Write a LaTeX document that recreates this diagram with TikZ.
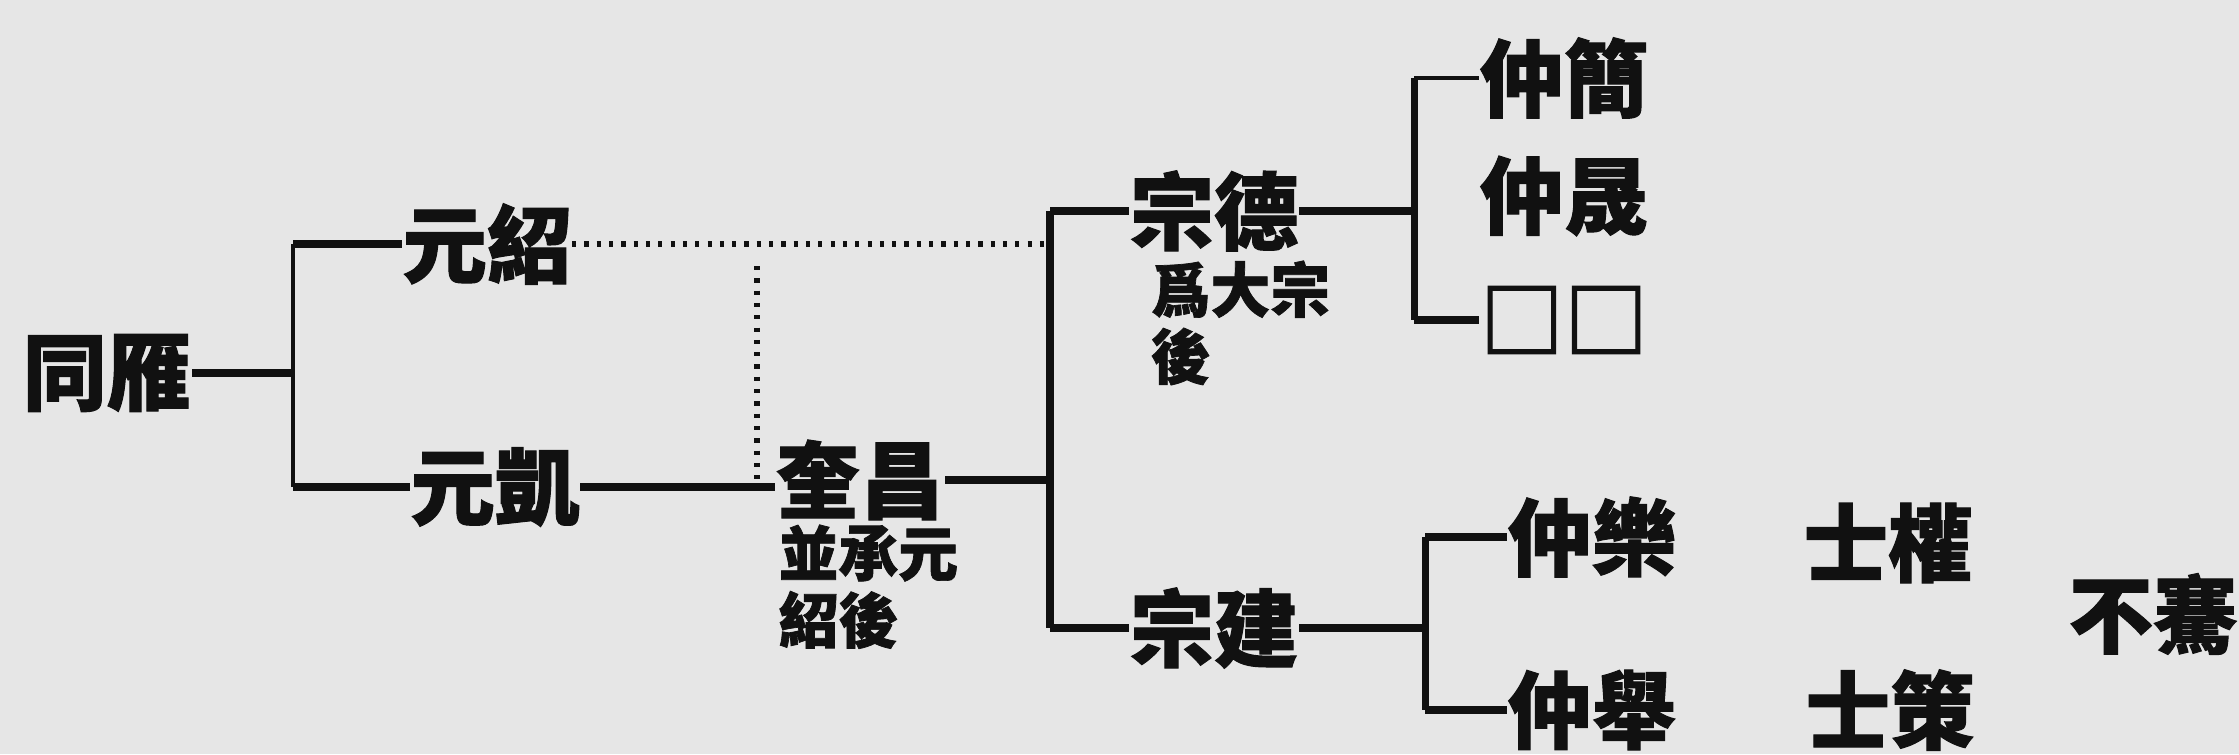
\documentclass[tikz,border=0pt]{standalone}
\usepackage{fontspec}
\newfontfamily\cjk{Noto Sans CJK TC}[BoldFeatures={FakeBold=1.2}]
\definecolor{paper}{HTML}{E6E6E6}
\definecolor{ink}{HTML}{111111}
\begin{document}
\begin{tikzpicture}[x=0.01cm,y=-0.01cm,
  big/.style={font=\cjk\bfseries\fontsize{24pt}{24pt}\selectfont, inner sep=0pt, text=ink},
  note/.style={font=\cjk\bfseries\fontsize{17pt}{19pt}\selectfont, inner sep=0pt, align=left, text=ink},
  ln/.style={line width=2pt, draw=ink},
  thinln/.style={line width=1.1pt, draw=ink},
  dots/.style={line width=1.8pt, draw=ink, dash pattern=on 1.2pt off 2.3pt}]
\fill[paper] (0,0) rectangle (2239,754);
\clip (0,0) rectangle (2239,754);
% nodes
\node[big] (tong) at (107,373) {同雁};
\node[big] (ys) at (487,244) {元紹};
\node[big] (yk) at (495,487) {元凱};
\node[big] (kc) at (860,480) {奎昌};
\node[note, anchor=north west] (kcnote) at (778,524) {並承元\\紹後};
\node[big] (zd) at (1214,211) {宗德};
\node[note, anchor=north west] (zdnote) at (1150,260) {爲大宗\\後};
\node[big] (zj) at (1214,628) {宗建};
\node[big] (zjian) at (1564,78) {仲簡};
\node[big] (zs) at (1564,196) {仲晟};
\node[big] (zq) at (1564,320) {□□};
\node[big] (zl) at (1592,537) {仲樂};
\node[big] (zju) at (1592,710) {仲舉};
\node[big] (sq) at (1888,543) {士權};
\node[big] (sc) at (1890,710) {士策};
\node[big] (bq) at (2153,614) {不騫};
% bracket x positions
\coordinate (b1) at (293,0);
\coordinate (b2) at (1050,0);
\coordinate (b3) at (1414,0);
\coordinate (b4) at (1425,0);
\coordinate (dv) at (757,266);
% connectors
\draw[ln] (tong.east) -- (tong.east -| b1);
\draw[thinln] (ys.west -| b1) -- (yk.west -| b1);
\draw[ln] (ys.west -| b1) -- (ys.west);
\draw[ln] (yk.west -| b1) -- (yk.west);
\draw[dots] (ys.east) -- (ys.east -| b2);
\draw[dots] (dv) -- (dv |- yk.east);
\draw[ln] (yk.east) -- (yk.east -| kc.west);
\draw[ln] (kc.east) -- (kc.east -| b2);
\draw[ln] (zd.west -| b2) -- (zj.west -| b2);
\draw[ln] (zd.west -| b2) -- (zd.west);
\draw[ln] (zj.west -| b2) -- (zj.west);
\draw[ln] (zd.east) -- (zd.east -| b3);
\draw[ln] (zjian.west -| b3) -- (zq.west -| b3);
\draw[thinln] (zjian.west -| b3) -- (zjian.west);
\draw[ln] (zq.west -| b3) -- (zq.west);
\draw[ln] (zj.east) -- (zj.east -| b4);
\draw[ln] (zl.west -| b4) -- (zju.west -| b4);
\draw[ln] (zl.west -| b4) -- (zl.west);
\draw[ln] (zju.west -| b4) -- (zju.west);
\end{tikzpicture}
\end{document}
